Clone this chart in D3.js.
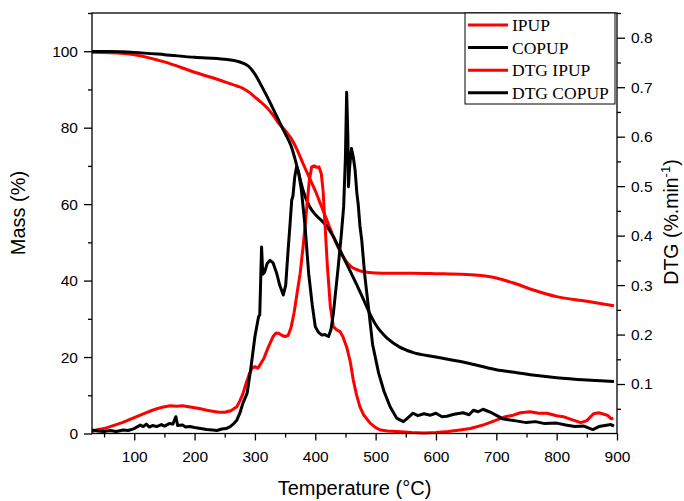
<!DOCTYPE html>
<html>
<head>
<meta charset="utf-8">
<script src="https://cdn.jsdelivr.net/npm/d3@7"></script>
<style>
  body { margin: 0; background: #fff; }
  svg text { font-family: Arial, "Liberation Sans", sans-serif; fill: #000; }
  .axis path { display: none; }
  .axis line { stroke: #000; stroke-width: 1.3px; }
  .axis text { font-size: 15.5px; }
  .legend text { font-family: "Liberation Serif", "Times New Roman", serif; font-size: 17.5px; }
</style>
</head>
<body>
<svg id="chart" width="684" height="501"></svg>
<script>
// TG curves (mass %) sampled on a shared temperature grid
const tgTemp = [30, 60, 100, 150, 200, 250, 270, 280, 290, 300, 310, 320, 330, 340, 350, 360, 370, 380, 390, 400, 410, 420, 430, 440, 450, 460, 470, 480, 490, 500, 520, 540, 560, 600, 650, 700, 730, 760, 800, 850, 895];
const ipupMass = [99.7, 99.6, 99.1, 97.2, 94.5, 92.0, 90.9, 90.3, 89.3, 88.0, 86.7, 85.2, 83.3, 81.0, 79.3, 77.2, 74.2, 70.5, 67.0, 63.5, 59.5, 55.5, 51.5, 48.0, 45.3, 43.6, 42.8, 42.3, 42.1, 42.0, 41.9, 41.9, 41.9, 41.8, 41.6, 40.7, 39.3, 37.6, 35.8, 34.6, 33.4];
const copupMass = [99.9, 99.9, 99.7, 99.1, 98.4, 97.9, 97.4, 96.9, 96.0, 94.0, 91.2, 88.2, 85.0, 81.7, 78.5, 75.2, 69.7, 63.5, 59.5, 57.3, 55.8, 54.0, 51.5, 48.3, 45.0, 41.8, 38.5, 35.0, 31.5, 28.5, 24.8, 22.6, 21.3, 20.0, 18.5, 16.7, 16.0, 15.3, 14.6, 14.0, 13.6];

// DTG curves (%.min-1)
const dtgIpupTemp = [30, 40, 50, 60, 70, 80, 90, 100, 110, 120, 130, 140, 150, 160, 170, 180, 190, 200, 210, 220, 230, 240, 250, 260, 270, 275, 280, 285, 290, 295, 300, 305, 310, 315, 320, 325, 330, 335, 340, 345, 350, 355, 360, 365, 370, 375, 380, 385, 390, 394, 398, 402, 406, 410, 413, 416, 420, 425, 430, 435, 441, 446, 452, 458, 463, 468, 474, 480, 491, 500, 508, 520, 535, 560, 580, 600, 620, 640, 657, 680, 700, 715, 728, 740, 756, 770, 784, 800, 811, 825, 840, 850, 861, 870, 884, 890, 894];
const dtgIpupRate = [0.004, 0.008, 0.010, 0.014, 0.018, 0.022, 0.027, 0.032, 0.037, 0.042, 0.047, 0.051, 0.054, 0.056, 0.055, 0.056, 0.054, 0.052, 0.050, 0.047, 0.045, 0.043, 0.043, 0.046, 0.054, 0.066, 0.080, 0.100, 0.118, 0.132, 0.135, 0.132, 0.142, 0.152, 0.168, 0.182, 0.196, 0.203, 0.202, 0.198, 0.196, 0.198, 0.215, 0.245, 0.285, 0.324, 0.380, 0.445, 0.510, 0.539, 0.541, 0.538, 0.539, 0.525, 0.490, 0.425, 0.340, 0.256, 0.216, 0.210, 0.206, 0.195, 0.175, 0.145, 0.108, 0.080, 0.054, 0.038, 0.021, 0.012, 0.007, 0.005, 0.004, 0.002, 0.001, 0.002, 0.004, 0.007, 0.010, 0.018, 0.027, 0.034, 0.037, 0.042, 0.044, 0.041, 0.041, 0.036, 0.034, 0.028, 0.022, 0.026, 0.040, 0.042, 0.037, 0.030, 0.031];

const dtgCopupTemp = [30, 40, 50, 60, 70, 82, 90, 100, 110, 115, 120, 125, 130, 137, 145, 150, 158, 164, 169, 172, 180, 185, 192, 200, 210, 220, 230, 237, 245, 252, 259, 265, 270, 275, 280, 287, 293, 300, 306, 308, 311, 313, 316, 320, 325, 330, 336, 341, 347, 351, 355, 358, 361, 363, 366, 369, 372, 377, 383, 389, 395, 400, 405, 411, 416, 422, 426, 430, 434, 438, 443, 447, 450, 452, 454, 455, 457, 460, 463, 466, 469, 471, 474, 477, 482, 488, 495, 505, 514, 524, 535, 546, 552, 562, 570, 580, 591, 600, 610, 618, 630, 645, 655, 662, 670, 678, 684, 692, 701, 710, 720, 735, 750, 765, 780, 800, 815, 830, 845, 860, 870, 880, 890, 895];
const dtgCopupRate = [0.007, 0.005, 0.004, 0.006, 0.004, 0.007, 0.006, 0.010, 0.017, 0.014, 0.019, 0.013, 0.016, 0.014, 0.018, 0.015, 0.020, 0.019, 0.034, 0.016, 0.017, 0.013, 0.014, 0.012, 0.010, 0.008, 0.007, 0.006, 0.009, 0.010, 0.014, 0.020, 0.027, 0.041, 0.061, 0.081, 0.130, 0.196, 0.236, 0.240, 0.377, 0.322, 0.326, 0.343, 0.350, 0.345, 0.324, 0.300, 0.280, 0.300, 0.371, 0.420, 0.472, 0.480, 0.519, 0.539, 0.530, 0.492, 0.420, 0.324, 0.260, 0.216, 0.205, 0.199, 0.200, 0.196, 0.210, 0.243, 0.290, 0.337, 0.400, 0.458, 0.560, 0.690, 0.600, 0.499, 0.540, 0.576, 0.559, 0.532, 0.485, 0.465, 0.420, 0.391, 0.320, 0.256, 0.180, 0.122, 0.085, 0.054, 0.031, 0.024, 0.030, 0.041, 0.036, 0.040, 0.037, 0.041, 0.034, 0.035, 0.039, 0.042, 0.038, 0.047, 0.044, 0.049, 0.046, 0.042, 0.036, 0.030, 0.028, 0.025, 0.022, 0.024, 0.020, 0.021, 0.017, 0.014, 0.015, 0.008, 0.014, 0.016, 0.018, 0.015];

const massTicks = [0, 20, 40, 60, 80, 100];
const massMinor = [10, 30, 50, 70, 90, 110];
const dtgTicks = [0.1, 0.2, 0.3, 0.4, 0.5, 0.6, 0.7, 0.8];
const dtgMinor = [0.05, 0.15, 0.25, 0.35, 0.45, 0.55, 0.65, 0.75, 0.85];
const tempTicks = [100, 200, 300, 400, 500, 600, 700, 800, 900];
const tempMinor = [50, 150, 250, 350, 450, 550, 650, 750, 850];

const legendItems = [
  { name: "IPUP", color: "#ff0000" },
  { name: "COPUP", color: "#000000" },
  { name: "DTG IPUP", color: "#ff0000" },
  { name: "DTG COPUP", color: "#000000" }
];

const margin = { top: 13, right: 67, bottom: 67.5, left: 92 };
const width = 684 - margin.left - margin.right;
const height = 501 - margin.top - margin.bottom;

const svg = d3.select("#chart");
const g = svg.append("g").attr("transform", `translate(${margin.left},${margin.top})`);

const x = d3.scaleLinear().domain([30, 900]).range([0, width]);
const yMass = d3.scaleLinear().domain([0, 110]).range([height, 0]);
const yDtg = d3.scaleLinear().domain([0, 0.85]).range([height, 0]);

// axes
g.append("g").attr("class", "axis")
  .call(d3.axisLeft(yMass).tickValues(massTicks).tickSize(8).tickPadding(6).tickSizeOuter(0));
g.append("g").attr("class", "axis")
  .call(d3.axisLeft(yMass).tickValues(massMinor).tickSize(4).tickFormat("").tickSizeOuter(0));

g.append("g").attr("class", "axis").attr("transform", `translate(${width},0)`)
  .call(d3.axisRight(yDtg).tickValues(dtgTicks).tickSize(8).tickPadding(6).tickFormat(d3.format(".1f")).tickSizeOuter(0));
g.append("g").attr("class", "axis").attr("transform", `translate(${width},0)`)
  .call(d3.axisRight(yDtg).tickValues(dtgMinor).tickSize(4).tickFormat("").tickSizeOuter(0));

g.append("g").attr("class", "axis").attr("transform", `translate(0,${height})`)
  .call(d3.axisBottom(x).tickValues(tempTicks).tickSize(7).tickPadding(10).tickSizeOuter(0));
g.append("g").attr("class", "axis").attr("transform", `translate(0,${height})`)
  .call(d3.axisBottom(x).tickValues(tempMinor).tickSize(4).tickFormat("").tickSizeOuter(0));

// curves
const tgLine = (vals) => d3.line()
  .x((d, i) => x(tgTemp[i]))
  .y((d) => yMass(d))
  .curve(d3.curveMonotoneX)(vals);

const dtgLine = (temps, rates) => d3.line()
  .x((d, i) => x(temps[i]))
  .y((d) => yDtg(d))(rates);

const plot = g.append("g");
plot.append("path").attr("d", tgLine(ipupMass))
  .attr("fill", "none").attr("stroke", "#ff0000").attr("stroke-width", 3);
plot.append("path").attr("d", tgLine(copupMass))
  .attr("fill", "none").attr("stroke", "#000").attr("stroke-width", 3);
plot.append("path").attr("d", dtgLine(dtgIpupTemp, dtgIpupRate))
  .attr("fill", "none").attr("stroke", "#ff0000").attr("stroke-width", 3).attr("stroke-linejoin", "round");
plot.append("path").attr("d", dtgLine(dtgCopupTemp, dtgCopupRate))
  .attr("fill", "none").attr("stroke", "#000").attr("stroke-width", 3).attr("stroke-linejoin", "round");

// frame
g.append("rect").attr("width", width).attr("height", height)
  .attr("fill", "none").attr("stroke", "#000").attr("stroke-width", 1.3);

// axis titles
svg.append("text").attr("x", margin.left + width / 2).attr("y", 495)
  .attr("text-anchor", "middle").style("font-size", "20px").text("Temperature (°C)");
svg.append("text").attr("transform", "translate(25,213) rotate(-90)")
  .attr("text-anchor", "middle").style("font-size", "20px").text("Mass (%)");
const dtgTitle = svg.append("text").attr("transform", "translate(678,222) rotate(-90)")
  .attr("text-anchor", "middle").style("font-size", "19.5px");
dtgTitle.append("tspan").text("DTG (%.min");
dtgTitle.append("tspan").attr("dy", -8).style("font-size", "13px").text("-1");
dtgTitle.append("tspan").attr("dy", 8).text(")");

// legend
const legend = svg.append("g").attr("class", "legend").attr("transform", "translate(465,13)");
legend.append("rect").attr("width", 150).attr("height", 91)
  .attr("fill", "#fff").attr("stroke", "#000").attr("stroke-width", 1);
legendItems.forEach((d, i) => {
  const cy = 12 + i * 22.6;
  legend.append("line").attr("x1", 3).attr("x2", 43).attr("y1", cy).attr("y2", cy)
    .attr("stroke", d.color).attr("stroke-width", 3);
  legend.append("text").attr("x", 47).attr("y", cy + 6).text(d.name);
});
</script>
</body>
</html>
